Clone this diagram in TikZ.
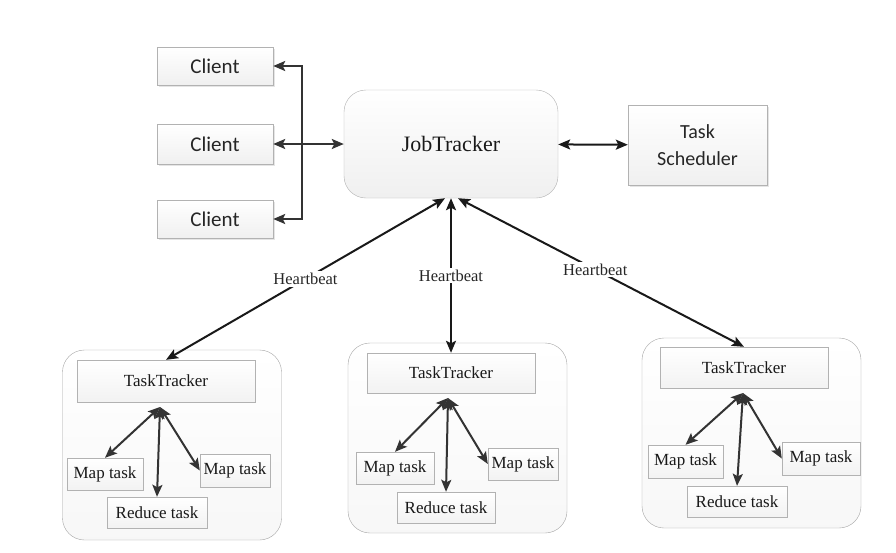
\documentclass[tikz,border=0pt]{standalone}
\usepackage{fontspec}
\setmainfont{Liberation Serif}
\newfontfamily\clientfont{Carlito}
\usetikzlibrary{arrows.meta,shadows}

\begin{document}
\begin{tikzpicture}[x=1pt,y=-1pt,>={Stealth[length=12pt,width=10pt,inset=2.5pt]},
  link/.style={draw=black!80,line width=2pt,<->},
  sbox/.style={draw=gray!60,top color=white,bottom color=gray!12,inner sep=0pt,
    text=black!85,font=\clientfont\fontsize{21}{24}\selectfont,
    drop shadow={opacity=.2,shadow xshift=1.5pt,shadow yshift=-1.5pt}},
  tbox/.style={draw=gray!60,top color=white,bottom color=gray!10,inner sep=0pt,
    text=black!90,font=\fontsize{17}{20}\selectfont},
  group/.style={draw=gray!70,rounded corners=22pt,top color=white,bottom color=gray!6,
    minimum width=219pt,minimum height=190pt},
  hblabel/.style={fill=white,inner sep=2pt,text=black!85,font=\fontsize{16.5}{19}\selectfont}]

  \fill[white] (0,0) rectangle (896,552);
  \useasboundingbox (0,0) rectangle (896,552);

  % clients and job tracker
  \node[sbox,minimum width=116pt,minimum height=38pt] (client1) at (215,66) {Client};
  \node[sbox,minimum width=116pt,minimum height=40pt] (client2) at (215,144) {Client};
  \node[sbox,minimum width=116pt,minimum height=38pt] (client3) at (215,219) {Client};

  \node[draw=gray!60,rounded corners=22pt,top color=white,bottom color=gray!12,
    minimum width=214pt,minimum height=108pt,text=black!90,
    font=\fontsize{22}{25}\selectfont] (jobtracker) at (451,144) {JobTracker};

  \node[sbox,minimum width=139pt,minimum height=80pt,align=center,
    font=\clientfont\fontsize{20}{27}\selectfont] (scheduler) at (697.5,145) {Task\\Scheduler};

  \coordinate (bus) at (302,144);
  \draw[link,->] (bus) |- (client1);
  \draw[link,->] (bus) |- (client3);
  \draw[link] (client2) -- (jobtracker);
  \draw[link,draw=black!90] (jobtracker) -- (scheduler);

  % task trackers
  \node[group] (group1) at (172,445) {};
  \node[group] (group2) at (457.5,438) {};
  \node[group] (group3) at (751.5,433) {};

  \node[tbox,minimum width=178pt,minimum height=42pt] (tracker1) at (166,381) {TaskTracker};
  \node[tbox,minimum width=76pt,minimum height=32pt] (mapA1) at (105,474) {Map task};
  \node[tbox,minimum width=70pt,minimum height=33pt] (mapB1) at (235,470.5) {Map task};
  \node[tbox,minimum width=100pt,minimum height=31pt] (reduce1) at (157,512.5) {Reduce task};
  \coordinate (hub1) at (160,407);

  \node[tbox,minimum width=168pt,minimum height=40pt] (tracker2) at (451,373) {TaskTracker};
  \node[tbox,minimum width=78pt,minimum height=32pt] (mapA2) at (395,468) {Map task};
  \node[tbox,minimum width=70pt,minimum height=32pt] (mapB2) at (523,464) {Map task};
  \node[tbox,minimum width=98pt,minimum height=31pt] (reduce2) at (446,507.5) {Reduce task};
  \coordinate (hub2) at (448,398);

  \node[tbox,minimum width=168pt,minimum height=41pt] (tracker3) at (744,367.5) {TaskTracker};
  \node[tbox,minimum width=75pt,minimum height=33pt] (mapA3) at (685.5,461.5) {Map task};
  \node[tbox,minimum width=78pt,minimum height=33pt] (mapB3) at (821,458.5) {Map task};
  \node[tbox,minimum width=100pt,minimum height=31pt] (reduce3) at (737,501.5) {Reduce task};
  \coordinate (hub3) at (743,393);

  \foreach \i in {1,2,3}{
    \draw[link] (hub\i) -- (mapA\i.north);
    \draw[link] (hub\i) -- (reduce\i.north);
    \draw[link] (hub\i) -- (mapB\i.west);
  }

  % heartbeats
  \draw[link,draw=black!90] ([xshift=-6pt]jobtracker.south) -- node[hblabel] {Heartbeat} (tracker1.north);
  \draw[link,draw=black!90] (jobtracker.south) -- node[hblabel,pos=.5] {Heartbeat} (tracker2.north);
  \draw[link,draw=black!90] ([xshift=7pt]jobtracker.south) -- node[hblabel,pos=.48] {Heartbeat} (tracker3.north);
\end{tikzpicture}
\end{document}
